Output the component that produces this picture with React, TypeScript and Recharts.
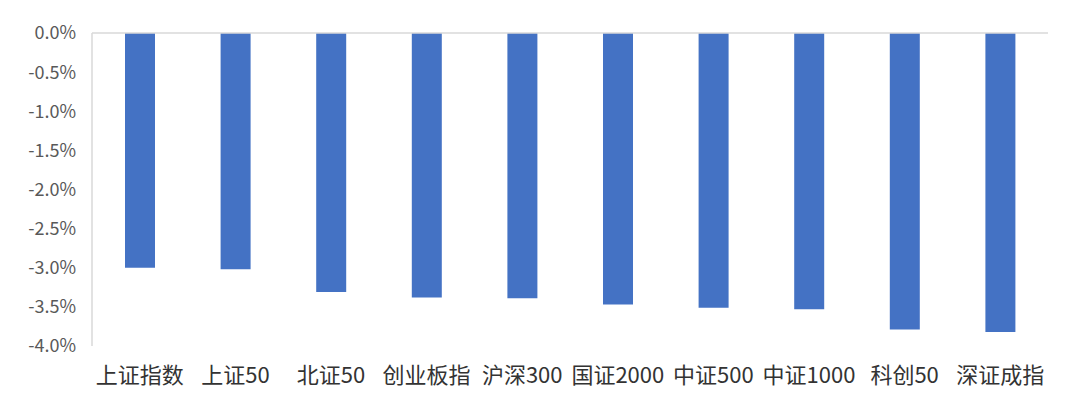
import { BarChart, Bar, XAxis, YAxis, ReferenceLine } from 'recharts';

const categories = ['上证指数', '上证50', '北证50', '创业板指', '沪深300', '国证2000', '中证500', '中证1000', '科创50', '深证成指'];
const changes = [-3.0, -3.02, -3.31, -3.38, -3.39, -3.47, -3.51, -3.53, -3.79, -3.82];
const yTicks = [0, -0.5, -1.0, -1.5, -2.0, -2.5, -3.0, -3.5, -4.0];

const data = categories.map((name, i) => ({ name, value: changes[i] }));

const FONT = '"Noto Sans CJK SC", "Noto Sans", sans-serif';

export default function App() {
  return (
    <div style={{ position: 'absolute', left: 0, top: 0, width: 1080, height: 412, background: '#fff' }}>
      <BarChart width={1080} height={412} data={data} margin={{ top: 33, right: 32, left: 0, bottom: 0 }}>
        <XAxis
          dataKey="name"
          axisLine={false}
          tickLine={false}
          height={66}
          tickMargin={15}
          interval={0}
          tick={{ fill: '#333333', fontSize: 22, fontFamily: FONT }}
        />
        <YAxis
          domain={[-4, 0]}
          ticks={yTicks}
          width={92}
          tickLine={false}
          tickMargin={10}
          axisLine={{ stroke: '#d9d9d9', strokeWidth: 1.5 }}
          tickFormatter={(v: number) => `${v.toFixed(1)}%`}
          tick={{ fill: '#595959', fontSize: 18, fontFamily: FONT }}
        />
        <ReferenceLine y={0} stroke="#d9d9d9" strokeWidth={1.5} />
        <Bar dataKey="value" fill="#4472C4" barSize={30} isAnimationActive={false} />
      </BarChart>
    </div>
  );
}
